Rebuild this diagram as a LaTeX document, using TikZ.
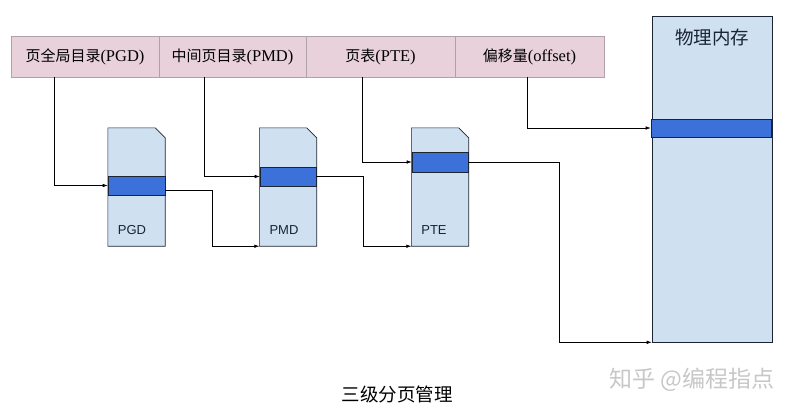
\documentclass[tikz,border=0pt]{standalone}
\usepackage{fontspec}
\setmainfont{Liberation Serif}
\newfontfamily\cjk{Noto Sans CJK SC}
\newfontfamily\sansf{Liberation Sans}
\usetikzlibrary{arrows.meta}
\definecolor{pinkf}{RGB}{232,209,219}
\definecolor{pinkd}{RGB}{176,160,168}
\definecolor{boxf}{RGB}{207,224,241}
\definecolor{bandf}{RGB}{60,113,217}
\definecolor{edge}{RGB}{26,36,51}
\newcommand\zhtxt[1]{{\cjk\fontsize{15}{17}\selectfont #1}}
\begin{document}
\begin{tikzpicture}[x=1pt,y=-1pt,
  field/.style={draw=pinkd, fill=pinkf, minimum height=41pt, inner sep=0pt, font=\fontsize{16.5}{18}\selectfont},
  pagebox/.style={minimum width=57pt, minimum height=118pt, inner sep=0pt},
  band/.style={draw=edge, fill=bandf, inner sep=0pt, line width=0.6pt},
  boxline/.style={draw=edge, fill=boxf, line width=0.6pt},
  plabel/.style={font=\sansf\fontsize{13}{15}\selectfont, text=edge},
  arr/.style={draw=black, line width=0.6pt, -{Latex[length=5pt,width=3.5pt]}}]
\useasboundingbox (0,0) rectangle (797,413);
% fields
\node[field, minimum width=148pt] (f1) at (85,56.5) {\zhtxt{页全局目录}(PGD)};
\node[field, minimum width=147pt] (f2) at (232.5,56.5) {\zhtxt{中间页目录}(PMD)};
\node[field, minimum width=149pt] (f3) at (380.5,56.5) {\zhtxt{页表}(PTE)};
\node[field, minimum width=149pt] (f4) at (529.5,56.5) {\zhtxt{偏移量}(offset)};
% page boxes
\node[pagebox] (pgd) at (136.5,187) {};
\node[pagebox] (pmd) at (288,187) {};
\node[pagebox] (pte) at (440,187) {};
\foreach \b in {pgd,pmd,pte}{
  \path[boxline] (\b.south west) -- (\b.north west) -- ([xshift=-10pt]\b.north east)
     -- ([yshift=-10pt]\b.north east) -- (\b.south east) -- cycle;
}
\node[band, minimum width=57pt, minimum height=19pt] (pgdb) at (136.5,185.5) {};
\node[band, minimum width=56pt, minimum height=19pt] (pmdb) at (288,176.5) {};
\node[band, minimum width=56pt, minimum height=20pt] (pteb) at (440,162) {};
\node[plabel] (pgdl) at (132,230) {PGD};
\node[plabel] (pmdl) at (284,230) {PMD};
\node[plabel] (ptel) at (434,230) {PTE};
% memory
\node[boxline, minimum width=120pt, minimum height=326pt, inner sep=0pt] (mem) at (712,179) {};
\node[font=\cjk\fontsize{18.5}{20}\selectfont, text=edge] (memt) at (712,37) {物理内存};
\node[band, minimum width=120pt, minimum height=18pt] (memb) at (711,128) {};
% connectors from fields
\draw[arr] ([xshift=-31pt]f1.south) |- (pgdb.west);
\draw[arr] ([xshift=-28.5pt]f2.south) |- (pmdb.west);
\draw[arr] ([xshift=-18.5pt]f3.south) |- (pteb.west);
\draw[arr] ([xshift=-2.5pt]f4.south) |- (memb.west);
% connectors between tables
\draw[arr] ([yshift=-5pt]pgdb.east) -- ++(47,0) |- (pmd.south west);
\draw[arr] (pmdb.east) -- ++(47,0) |- (pte.south west);
\draw[arr] (pteb.east) -- ++(91,0) |- (mem.south west);
% captions
\node[font=\cjk\fontsize{18.5}{20}\selectfont] (title) at (397,394) {三级分页管理};
\node[font=\cjk\fontsize{23}{25}\selectfont, text=black!22] (wm) at (692,380) {知乎 @编程指点};
\end{tikzpicture}
\end{document}
